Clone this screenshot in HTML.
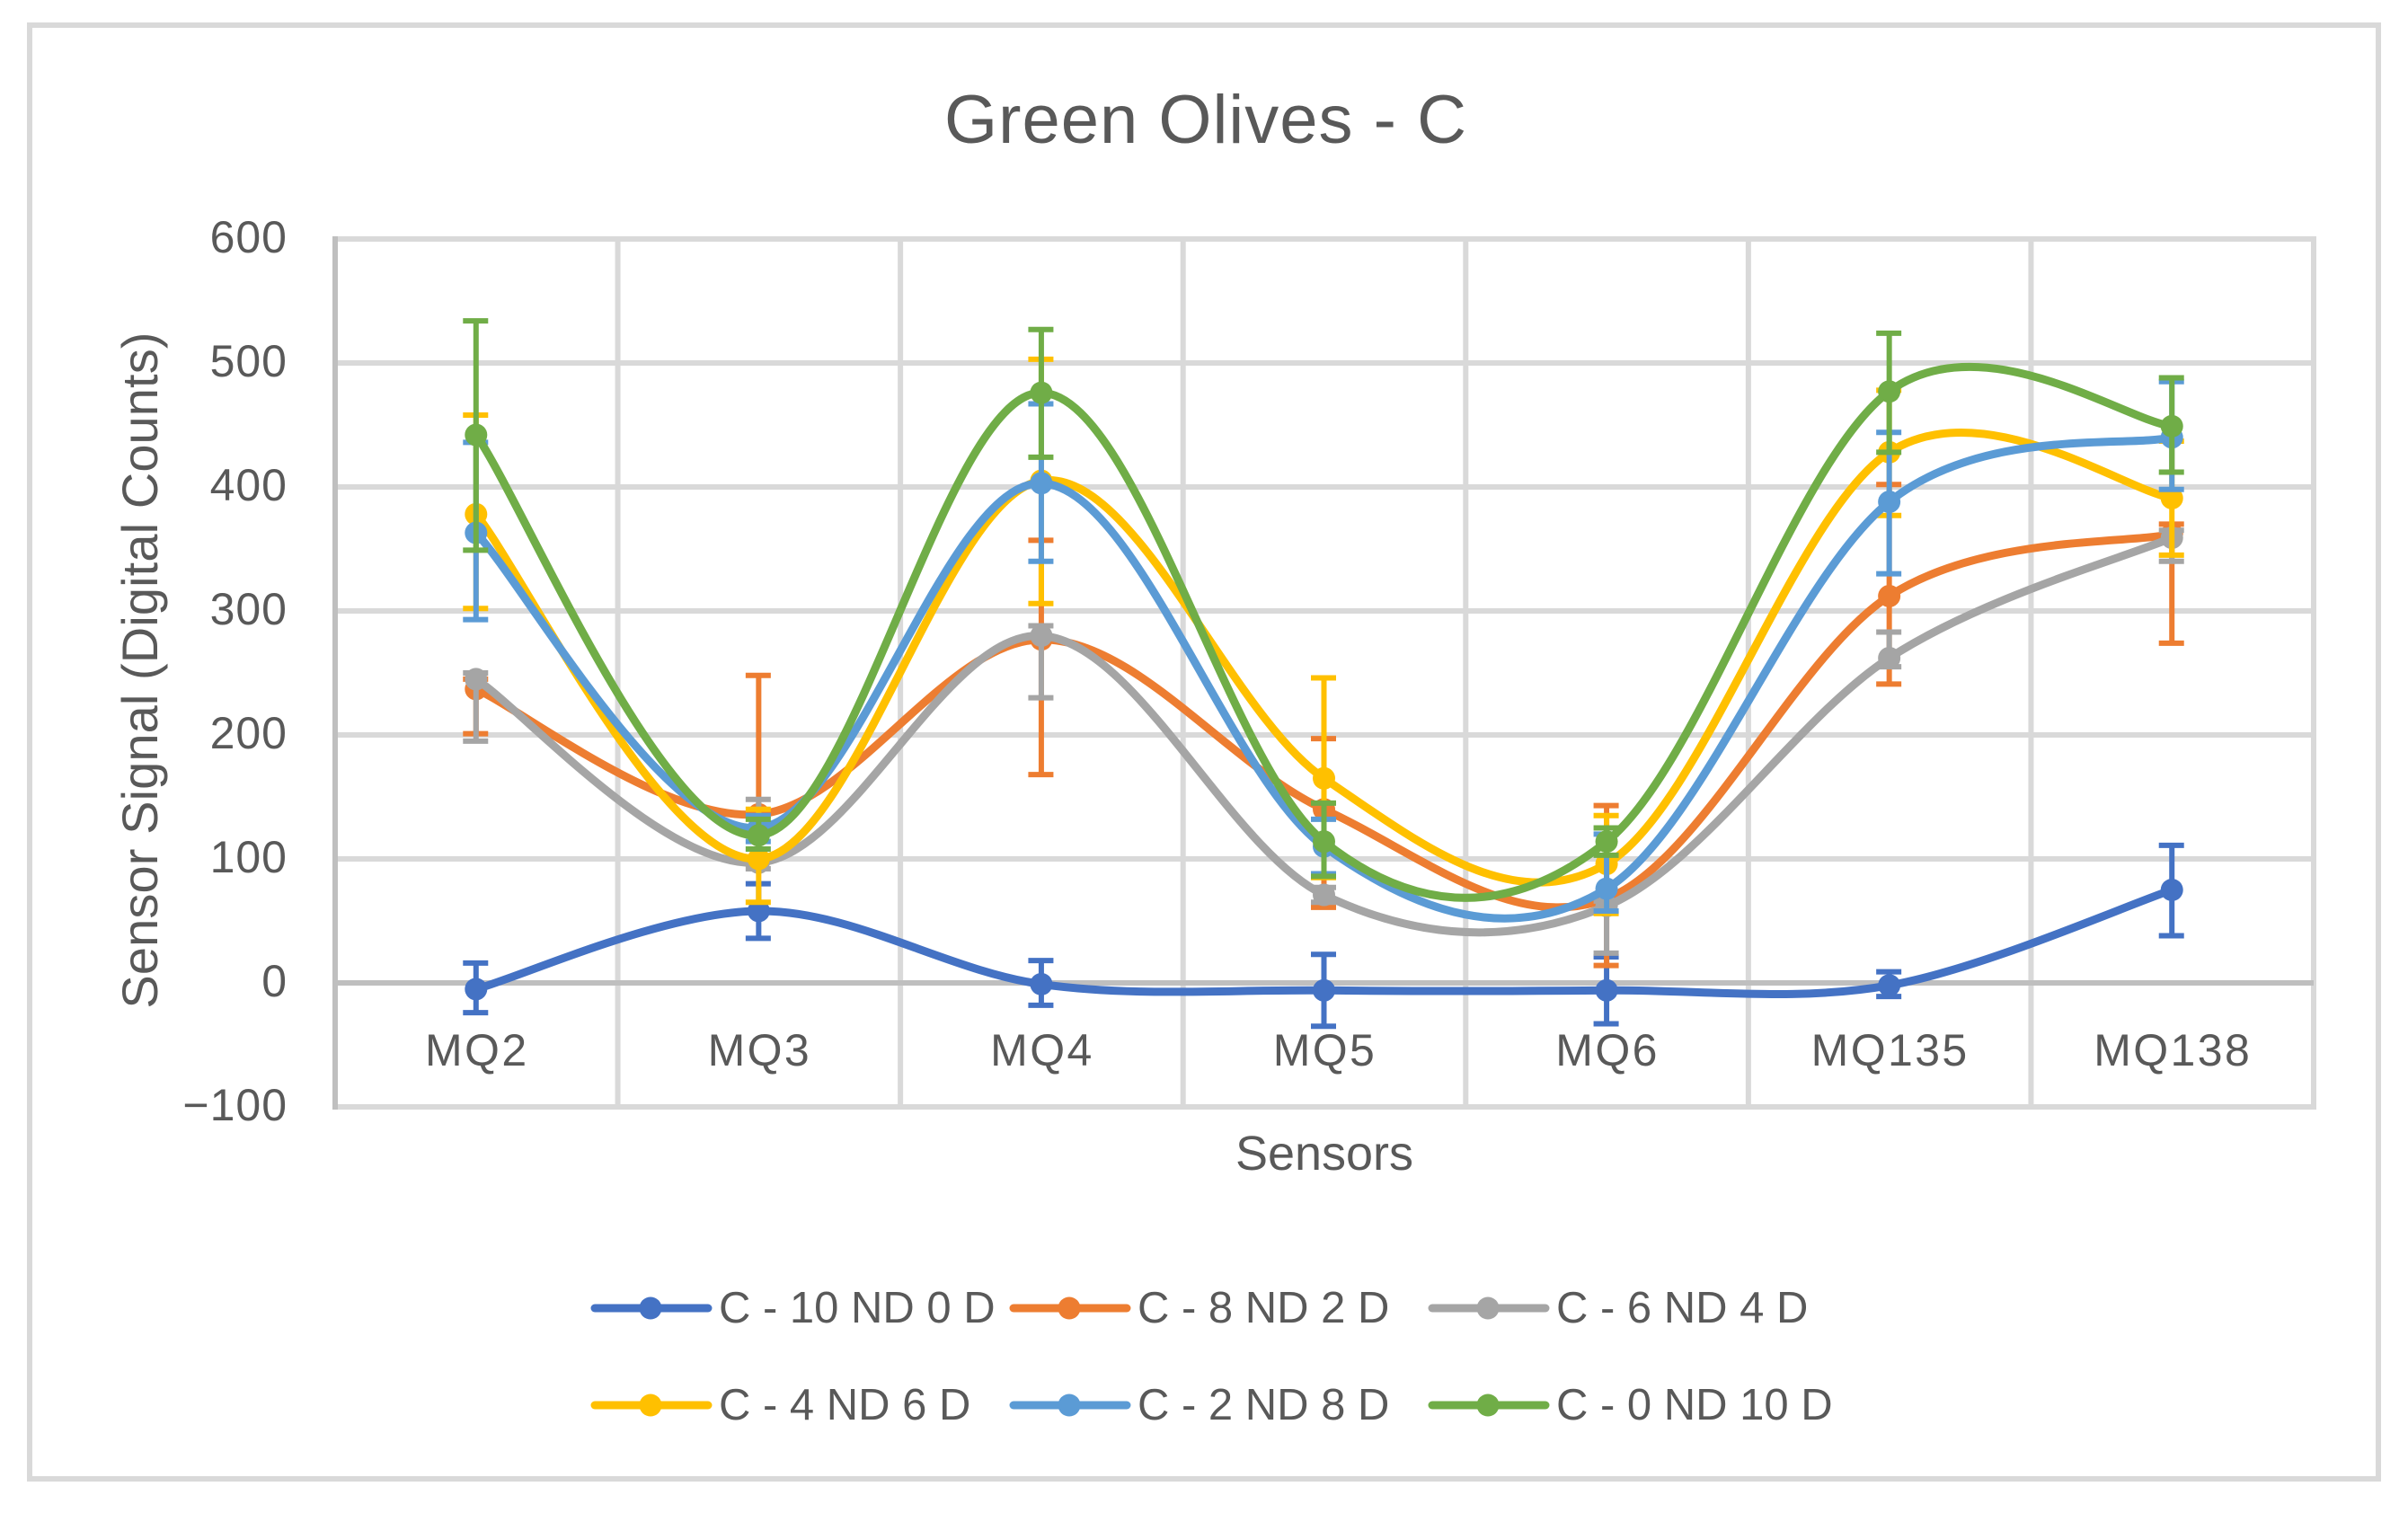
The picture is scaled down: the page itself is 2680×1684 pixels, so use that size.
<!DOCTYPE html>
<html lang="en">
<head>
<meta charset="utf-8">
<title>Green Olives - C</title>
<style>
html,body{margin:0;padding:0;background:#fff;width:2680px;height:1684px;overflow:hidden}
svg{display:block}
text{font-family:"Liberation Sans",sans-serif;fill:#595959}
</style>
</head>
<body>
<svg id="chart" xmlns="http://www.w3.org/2000/svg" width="2680" height="1684" viewBox="0 0 2680 1684">
  <rect x="0" y="0" width="2680" height="1684" fill="#ffffff"/>
  <rect x="33" y="28" width="2614" height="1618" fill="#ffffff" stroke="#d9d9d9" stroke-width="6"/>
  <text x="1342" y="159" font-size="76" letter-spacing="1" text-anchor="middle">Green Olives - C</text>
  <text transform="translate(175 746) rotate(-90)" font-size="56" letter-spacing="0.1" text-anchor="middle">Sensor Signal (Digital Counts)</text>
  <text x="1474" y="1302" font-size="54" text-anchor="middle">Sensors</text>
  <g id="grid"></g>
  <g id="ticks"></g>
  <g id="series"></g>
  <g id="cats"></g>
  <g id="legend"></g>
</svg>
<script>
const categories = ["MQ2","MQ3","MQ4","MQ5","MQ6","MQ135","MQ138"];
const yTicks = [-100,0,100,200,300,400,500,600];
const seriesNames = ["C - 10 ND 0 D","C - 8 ND 2 D","C - 6 ND 4 D","C - 4 ND 6 D","C - 2 ND 8 D","C - 0 ND 10 D"];
const seriesColors = ["#4472C4","#ED7D31","#A5A5A5","#FFC000","#5B9BD5","#70AD47"];

const values10nd = [-5,58,-1,-6,-6,-2,75];
const errHigh10nd = [16,80,18,23,21,9,111];
const errLow10nd = [-24,36,-18,-35,-33,-11,38];

const values8nd = [237,136,277,140,68,312,362];
const errHigh8nd = [245,248,357,197,143,402,370];
const errLow8nd = [201,125,168,61,14,241,274];

const values6nd = [245,97,280,71,62,262,359];
const errHigh6nd = [250,148,288,77,66,283,365];
const errLow6nd = [195,92,230,65,24,255,340];

const values4nd = [378,100,405,165,96,428,391];
const errHigh4nd = [458,140,503,246,135,478,437];
const errLow4nd = [302,65,306,85,56,377,345];

const values2nd = [363,125,403,110,76,388,440];
const errHigh2nd = [436,135,467,132,120,444,485];
const errLow2nd = [293,114,340,88,58,330,398];

const values0nd = [442,119,476,114,114,477,449];
const errHigh0nd = [534,132,527,145,125,524,488];
const errLow0nd = [349,108,424,86,103,428,412];

const seriesValues = [values10nd,values8nd,values6nd,values4nd,values2nd,values0nd];
const seriesHigh = [errHigh10nd,errHigh8nd,errHigh6nd,errHigh4nd,errHigh2nd,errHigh0nd];
const seriesLow = [errLow10nd,errLow8nd,errLow6nd,errLow4nd,errLow2nd,errLow0nd];

const NS = "http://www.w3.org/2000/svg";
const plotLeft = 373, plotRight = 2575, plotBottom = 1232, plotTop = 266;
const yMin = -100, yMax = 600;
const bandW = (plotRight - plotLeft) / categories.length;

function xBand(i){ return plotLeft + bandW * i; }
function xCat(i){ return plotLeft + bandW * (i + 0.5) - 0.5; }
function yVal(v){ return plotBottom - (v - yMin) / (yMax - yMin) * (plotBottom - plotTop); }

function make(tag, attrs, parent){
  const el = document.createElementNS(NS, tag);
  for (const k in attrs) el.setAttribute(k, attrs[k]);
  parent.appendChild(el);
  return el;
}

function smoothPath(vals){
  const pts = vals.map((v,i)=>[xCat(i), yVal(v)]);
  let d = "M" + pts[0][0].toFixed(1) + " " + pts[0][1].toFixed(1);
  for (let i = 0; i < pts.length - 1; i++){
    const p0 = pts[Math.max(i-1,0)], p1 = pts[i], p2 = pts[i+1], p3 = pts[Math.min(i+2,pts.length-1)];
    const c1x = p1[0] + (p2[0]-p0[0])/6, c1y = p1[1] + (p2[1]-p0[1])/6;
    const c2x = p2[0] - (p3[0]-p1[0])/6, c2y = p2[1] - (p3[1]-p1[1])/6;
    d += " C" + c1x.toFixed(1) + " " + c1y.toFixed(1) + " " + c2x.toFixed(1) + " " + c2y.toFixed(1) + " " + p2[0].toFixed(1) + " " + p2[1].toFixed(1);
  }
  return d;
}

const grid = document.getElementById("grid");
yTicks.forEach(function(t){
  const line = make("line", {x1:plotLeft, x2:plotRight, y1:yVal(t), y2:yVal(t), stroke: t === 0 ? "#bfbfbf" : "#d9d9d9", "stroke-width":6}, grid);
  
  
});
for (let i = 1; i <= categories.length; i++){
  const line = make("line", {x1:xBand(i), x2:xBand(i), y1:plotTop-3, y2:plotBottom+3, stroke:"#d9d9d9", "stroke-width":6}, grid);
  
  
}
const zeroAxis = make("line", {x1:plotLeft, x2:plotRight, y1:yVal(0), y2:yVal(0), stroke:"#bfbfbf", "stroke-width":6}, grid);


const yAxis = make("line", {x1:plotLeft, x2:plotLeft, y1:plotTop-3, y2:plotBottom+3, stroke:"#bfbfbf", "stroke-width":6}, grid);



const ticks = document.getElementById("ticks");
yTicks.forEach(function(t){
  const el = make("text", {x:320, y:yVal(t)+15, "font-size":50, "letter-spacing":1, "text-anchor":"end"}, ticks);
  
  
  el.textContent = t < 0 ? "\u2212" + Math.abs(t) : String(t);
});

const cats = document.getElementById("cats");
categories.forEach(function(c,i){
  const el = make("text", {x:xCat(i)+1, y:1186, "font-size":50, "letter-spacing":2.4, "text-anchor":"middle"}, cats);
  
  
  el.textContent = c;
});

const seriesRoot = document.getElementById("series");
seriesNames.forEach(function(name,s){
  const color = seriesColors[s];
  const g = make("g", {}, seriesRoot);
  
  
  seriesValues[s].forEach(function(v,i){
    const x = xCat(i), yh = yVal(seriesHigh[s][i]), yl = yVal(seriesLow[s][i]);
    const stem = make("line", {x1:x, x2:x, y1:yh, y2:yl, stroke:color, "stroke-width":6}, g);
    
    
    const capTop = make("line", {x1:x-14.5, x2:x+13.5, y1:yh, y2:yh, stroke:color, "stroke-width":6}, g);
    
    
    const capLow = make("line", {x1:x-14.5, x2:x+13.5, y1:yl, y2:yl, stroke:color, "stroke-width":6}, g);
    
    
  });
  const path = make("path", {d:smoothPath(seriesValues[s]), fill:"none", stroke:color, "stroke-width":9, "stroke-linecap":"round", "stroke-linejoin":"round"}, g);
  
  
  seriesValues[s].forEach(function(v,i){
    const dot = make("circle", {cx:xCat(i), cy:yVal(v), r:12.5, fill:color}, g);
    
    
  });
});

const legend = document.getElementById("legend");
seriesNames.forEach(function(name,s){
  const col = s % 3, row = Math.floor(s / 3);
  const lx = 659 + col * 466, ly = 1456 + row * 108;
  const g = make("g", {}, legend);
  
  
  make("line", {x1:lx+3, x2:lx+129, y1:ly, y2:ly, stroke:seriesColors[s], "stroke-width":9, "stroke-linecap":"round"}, g);
  make("circle", {cx:lx+65, cy:ly, r:12.5, fill:seriesColors[s]}, g);
  const label = make("text", {x:lx+141, y:ly+16, "font-size":49}, g);
  
  
  label.textContent = name;
});
</script>
</body>
</html>
